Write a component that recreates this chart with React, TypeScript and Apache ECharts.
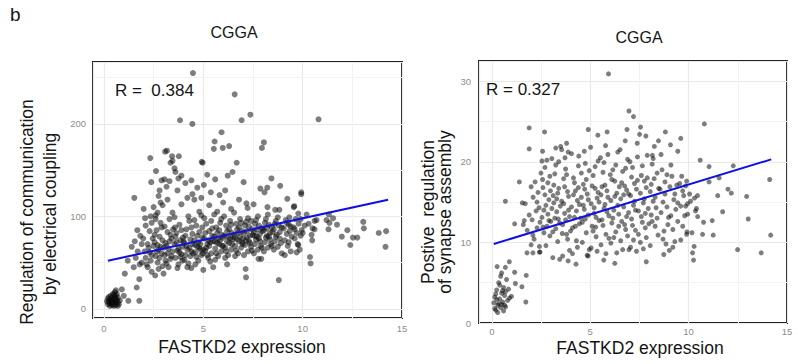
import React, { useEffect, useRef } from "react";
import * as echarts from "echarts";

// ---------- DATA ----------
const panelTitles = ["CGGA", "CGGA"];
const xAxisTitle = "FASTKD2 expression";
const leftYTitle = ["Regulation of communication", "by electrical coupling"];
const rightYTitle = ["Postive  regulation", "of synapse assembly"];
const leftR = "R =  0.384";
const rightR = "R = 0.327";

const leftXTicks = [0, 5, 10, 15];
const leftYTicks = [0, 100, 200];
const rightXTicks = [0, 5, 10, 15];
const rightYTicks = [0, 10, 20, 30];

const leftMinorX = [2.5, 7.5, 12.5];
const leftMinorY = [50, 150, 250];
const rightMinorX = [2.5, 7.5, 12.5];
const rightMinorY = [5, 15, 25];

// regression line end points
const leftFit = [[0.2, 52], [14.3, 118]];
const rightFit = [[0.1, 9.8], [14.2, 20.3]];

// left panel: FASTKD2 expression vs electrical coupling score
const leftPoints = [
  [0.2,5],[0.25,8],[0.3,10],[0.35,6],[0.4,12],[0.45,9],[0.5,7],[0.55,11],[0.6,14],[0.3,3],[0.4,4],[0.5,3],[0.6,6],[0.65,9],[0.7,12],[0.2,11],[0.35,14],[0.45,16],[0.55,18],[0.4,7],[0.5,10],[0.6,4],[0.7,7],[0.75,5],[0.25,13],[0.3,6],[0.15,8],[0.45,5],[0.55,13],[0.65,16],[0.8,9],[0.5,15],[0.35,10],[0.6,10],[0.7,3],
  [1.23,8.6],[1.78,8.6],[1.05,38],[1.78,32],[1.65,23],[0.9,21],[2.58,36],[1.4,67],[1.2,52],[0.6,20],[1.0,14],[1.5,45],[1.9,50],
  [1.53,120],[2.33,163],[3.83,204],[4.45,200],[4.48,255],[3.08,170],[3.17,171],[3.43,165],[3.77,165],[3.45,160],[3.35,158],[3.55,152],[3.6,148],[3.9,144],[3.75,141],[4.1,136],[4.4,139],[4.45,124],[2.62,149],[2.38,137],[2.8,128],[2.9,139],[3.15,132],[3.05,140],[3.3,138],[2.75,122],[2.85,115],[2.95,112],[4.92,159],[2.0,108],[2.07,98],[1.68,85],[1.83,79],[1.98,76],[2.35,100],[2.6,97],[4.2,120],[3.7,128],[4.7,131],[4.55,118],[2.5,110],[3.9,113],[4.8,105],[3.2,118],[2.7,104],
  [6.58,232],[7.37,210],[6.93,204],[5.92,191],[5.57,181],[5.53,173],[5.98,174],[6.3,176],[8.05,180],[7.95,174],[4.97,158],[6.68,158],[6.47,148],[6.23,144],[7.03,137],[8.43,141],[7.87,130],[8.22,131],[8.08,126],[8.87,133],[9.23,119],[9.58,111],[9.93,124],[6.1,128],[5.82,123],[5.38,126],[5.03,134],[7.17,114],[7.53,113],[7.23,109],[8.23,110],[8.62,107],[8.83,107],[9.33,99],[9.55,110],
  [5.2,145],[5.6,140],[4.9,120],[5.3,112],[6.0,115],[6.4,108],[6.8,118],[5.7,105],
  [7.13,43],[7.15,34],[8.8,31],[7.78,54],[7.92,54],[2.4,40],[3.0,38],[4.4,44],[5.0,42],[5.5,45],[6.2,48],
  [10.8,205],[9.93,126],[9.78,103],[11.32,102],[11.53,98],[13.05,94],[11.2,96],[11.35,93],[11.73,91],[14.2,84],[13.08,87],[13.83,82],[12.25,85],[11.97,78],[12.53,77],[12.75,77],[12.4,69],[14.17,67],[11.3,86],[10.37,56],[10.4,49],[10.45,80],[10.48,74],[9.78,69],[10.1,90],[10.3,92],[10.6,95],[10.7,96],[10.2,102],[9.9,97],[9.95,85],[10.0,82],[10.5,87],[10.6,86],
  [1.6,55],[1.7,62],[1.8,48],[1.9,70],[1.55,73],
  [2.05,62],[2.1,55],[2.2,70],[2.15,48],[2.3,84],[2.25,66],[2.4,58],[2.45,76],[2.1,90],[2.35,52],[2.2,45],[2.4,93],[2.5,68],[2.3,61],
  [2.55,72],[2.6,57],[2.65,85],[2.7,50],[2.75,64],[2.8,78],[2.85,93],[2.9,60],[2.95,46],[2.6,101],[2.7,69],[2.8,55],[2.9,88],[2.55,80],[2.75,43],[2.95,74],[2.65,62],[2.85,67],
  [3.05,58],[3.1,71],[3.15,49],[3.2,83],[3.25,65],[3.3,97],[3.35,54],[3.4,76],[3.45,62],[3.05,89],[3.15,68],[3.25,45],[3.35,80],[3.45,104],[3.1,52],[3.2,60],[3.3,73],[3.4,57],[3.48,86],[3.0,66],
  [3.55,70],[3.6,55],[3.65,82],[3.7,63],[3.75,48],[3.8,91],[3.85,74],[3.9,59],[3.95,67],[3.55,99],[3.6,78],[3.7,44],[3.8,61],[3.9,85],[3.95,52],[3.65,72],[3.75,65],[3.85,56],[3.58,88],[3.98,77],
  [4.05,71],[4.1,58],[4.15,86],[4.2,64],[4.25,49],[4.3,95],[4.35,75],[4.4,62],[4.45,81],[4.05,53],[4.15,68],[4.25,100],[4.35,57],[4.45,70],[4.1,79],[4.2,45],[4.3,66],[4.4,88],[4.48,60],[4.0,73],
  [4.55,74],[4.6,61],[4.65,90],[4.7,67],[4.75,52],[4.8,83],[4.85,70],[4.9,58],[4.95,77],[4.55,96],[4.65,56],[4.75,72],[4.85,64],[4.95,88],[4.6,48],[4.7,79],[4.8,66],[4.9,101],[4.58,69],[4.98,60],
  [5.05,76],[5.1,63],[5.15,92],[5.2,70],[5.25,55],[5.3,84],[5.35,72],[5.4,60],[5.45,79],[5.05,98],[5.15,66],[5.25,74],[5.35,51],[5.45,87],[5.1,82],[5.2,58],[5.3,68],[5.4,95],[5.48,73],[5.0,64],
  [5.55,78],[5.6,65],[5.65,88],[5.7,71],[5.75,57],[5.8,85],[5.85,74],[5.9,62],[5.95,80],[5.55,102],[5.65,60],[5.75,76],[5.85,93],[5.95,68],[5.6,53],[5.7,82],[5.8,70],[5.9,97],[5.58,73],[5.98,77],
  [6.05,79],[6.1,66],[6.15,90],[6.2,73],[6.25,58],[6.3,86],[6.35,76],[6.4,64],[6.45,82],[6.05,100],[6.15,62],[6.25,78],[6.35,95],[6.45,70],[6.1,55],[6.2,84],[6.3,71],[6.4,91],[6.48,75],[6.0,68],
  [6.55,80],[6.6,68],[6.65,92],[6.7,75],[6.75,60],[6.8,88],[6.85,78],[6.9,66],[6.95,84],[6.55,104],[6.65,63],[6.75,82],[6.85,97],[6.95,72],[6.6,57],[6.7,86],[6.8,73],[6.9,93],[6.58,77],[6.98,70],
  [7.05,82],[7.1,69],[7.15,94],[7.2,77],[7.25,62],[7.3,89],[7.35,79],[7.4,67],[7.45,86],[7.05,58],[7.15,74],[7.25,98],[7.35,71],[7.45,63],[7.1,90],[7.2,84],[7.3,73],[7.4,95],[7.48,80],[7.0,76],
  [7.55,83],[7.6,70],[7.65,96],[7.7,78],[7.75,64],[7.8,90],[7.85,81],[7.9,68],[7.95,87],[7.55,60],[7.65,75],[7.75,100],[7.85,73],[7.95,66],[7.6,92],[7.7,86],[7.8,76],[7.58,79],[7.98,84],
  [8.05,85],[8.1,72],[8.15,97],[8.2,79],[8.25,66],[8.3,91],[8.35,82],[8.4,70],[8.45,88],[8.05,62],[8.15,77],[8.25,102],[8.35,75],[8.45,68],[8.1,93],[8.2,87],[8.3,78],[8.48,83],
  [8.55,86],[8.6,73],[8.65,95],[8.7,80],[8.75,67],[8.8,90],[8.85,83],[8.9,71],[8.95,60],[8.55,64],[8.65,78],[8.75,99],[8.85,76],[8.95,88],[8.6,92],
  [9.05,87],[9.1,74],[9.15,96],[9.2,81],[9.25,68],[9.3,91],[9.35,84],[9.4,62],[9.45,78],[9.1,58],[9.2,93],[9.3,72],[9.4,89],
  [9.55,88],[9.6,76],[9.65,97],[9.7,82],[9.75,70],[9.8,92],[9.85,64],[9.9,79],[9.6,86],[9.7,61]
];

// right panel: FASTKD2 expression vs synapse assembly score
const rightPoints = [
  [0.1,2.5],[0.15,3.2],[0.2,1.6],[0.25,4.1],[0.3,2.2],[0.35,5.0],[0.4,3.0],[0.45,1.9],[0.5,3.7],[0.55,2.6],[0.6,4.4],[0.65,3.4],[0.7,2.0],[0.75,5.4],[0.2,3.6],[0.3,1.3],[0.4,4.7],[0.5,2.3],[0.6,1.5],[0.7,3.9],[0.8,2.8],[0.25,2.9],[0.45,5.8],[0.55,4.0],[0.35,2.4],[0.65,2.2],[0.15,1.8],[0.85,4.2],[0.9,3.1],[0.5,6.2],
  [0.27,7.0],[0.69,6.9],[0.89,7.6],[1.16,6.3],[1.53,4.5],[1.75,5.9],[1.73,2.6],[1.0,3.3],[1.2,4.9],
  [1.9,24.2],[2.68,23.7],[1.9,21.6],[2.58,21.3],[3.25,21.7],[3.5,21.9],[3.8,22.3],[3.88,21.2],[1.4,17.5],[0.69,15.1],[1.16,12.3],[2.09,10.9],[1.79,8.7],[2.09,8.7],[2.42,8.8],[2.42,9.5],
  [5.93,30.9],[6.97,26.3],[7.2,25.6],[6.87,24.0],[7.56,24.3],[8.82,23.7],[9.6,22.9],[4.9,24.0],[5.86,23.7],[5.39,23.3],[7.51,23.4],[7.83,23.2],[7.39,22.3],[8.47,22.6],[9.08,22.1],[9.45,21.3],[8.26,21.9],[8.16,20.8],
  [5.69,7.8],[6.25,7.4],[7.85,7.6],[6.97,9.1],[8.74,8.5],[9.02,9.0],[4.89,8.3],
  [10.8,24.7],[10.59,20.2],[11.04,19.4],[12.27,19.5],[11.55,18.0],[11.04,17.5],[14.12,17.8],[12.0,16.6],[12.17,16.1],[11.48,15.8],[12.95,15.7],[11.73,13.8],[13.03,12.9],[10.46,13.2],[10.76,12.5],[11.2,12.7],[9.92,11.3],[10.17,11.2],[10.71,11.0],[11.25,10.9],[14.17,10.9],[12.49,9.1],[13.69,8.7],[10.28,9.5],[10.2,8.7],[10.25,7.8],
  [9.9,17.6],[10.05,16.0],[10.3,15.5],[10.45,15.8],[10.1,15.1],[10.4,14.2],[10.35,13.9],[9.85,14.5],[9.95,13.5],
  [1.6,12.2],[1.7,14.8],[1.8,11.5],[1.9,13.4],[2.0,16.9],[2.05,12.8],[2.1,15.6],[2.15,10.4],[2.2,17.5],[2.25,13.9],[2.3,11.8],[2.35,16.2],[2.4,14.3],[2.45,12.5],[2.5,18.6],[1.55,14.9],[1.65,12.7],[2.0,9.7],[2.3,15.0],[2.45,8.8],
  [2.55,13.1],[2.6,16.8],[2.65,11.2],[2.7,19.3],[2.75,14.6],[2.8,12.0],[2.85,17.4],[2.9,15.3],[2.95,10.8],[2.55,20.1],[2.65,14.0],[2.75,9.6],[2.85,13.5],[2.95,18.2],[2.6,11.9],[2.7,15.9],[2.8,20.2],[2.9,12.7],[2.98,16.4],[2.58,17.8],
  [3.05,14.2],[3.1,11.3],[3.15,17.1],[3.2,13.0],[3.25,19.6],[3.3,15.4],[3.35,10.1],[3.4,16.7],[3.45,12.4],[3.05,20.4],[3.1,8.1],[3.15,14.9],[3.2,18.5],[3.25,11.7],[3.3,13.8],[3.35,16.1],[3.4,20.0],[3.45,7.9],[3.48,14.5],[3.0,12.6],[3.12,15.8],[3.38,12.9],
  [3.55,15.1],[3.6,12.2],[3.65,17.9],[3.7,13.6],[3.75,19.1],[3.8,11.0],[3.85,16.3],[3.9,14.0],[3.95,9.0],[3.55,21.5],[3.6,8.3],[3.65,14.8],[3.7,16.9],[3.75,12.8],[3.8,18.4],[3.85,10.4],[3.9,15.7],[3.95,13.2],[3.58,11.1],[3.72,20.5],[3.88,7.7],
  [4.05,14.4],[4.1,11.8],[4.15,18.0],[4.2,13.1],[4.25,16.4],[4.3,10.2],[4.35,15.2],[4.4,19.5],[4.45,12.3],[4.05,21.0],[4.1,8.6],[4.15,15.9],[4.2,17.4],[4.25,12.0],[4.3,13.9],[4.35,9.4],[4.4,16.8],[4.45,14.7],[4.0,11.4],[4.28,7.3],[4.42,20.7],
  [4.55,15.6],[4.6,12.5],[4.65,17.2],[4.7,14.1],[4.75,19.8],[4.8,11.2],[4.85,16.0],[4.9,13.4],[4.95,9.1],[4.55,18.6],[4.6,10.0],[4.65,14.6],[4.7,21.3],[4.75,12.9],[4.8,17.8],[4.85,8.4],[4.9,15.3],[4.95,18.9],[4.52,13.0],[4.72,16.6],
  [5.05,14.8],[5.1,12.0],[5.15,18.3],[5.2,13.6],[5.25,16.7],[5.3,10.7],[5.35,15.5],[5.4,20.1],[5.45,12.7],[5.05,9.3],[5.1,17.0],[5.15,11.4],[5.2,14.3],[5.25,19.4],[5.3,13.1],[5.35,8.9],[5.4,16.2],[5.45,15.0],[5.02,21.8],[5.28,11.9],
  [5.55,15.9],[5.6,12.8],[5.65,18.7],[5.7,14.2],[5.75,17.1],[5.8,11.0],[5.85,16.4],[5.9,20.9],[5.95,13.3],[5.55,9.7],[5.6,16.9],[5.65,12.1],[5.7,19.9],[5.75,14.7],[5.8,8.6],[5.85,13.8],[5.9,15.6],[5.95,10.5],[5.52,20.5],[5.78,22.0],
  [6.05,15.2],[6.1,12.4],[6.15,19.0],[6.2,14.0],[6.25,17.6],[6.3,11.3],[6.35,16.1],[6.4,21.2],[6.45,13.5],[6.05,9.9],[6.1,17.8],[6.15,13.0],[6.2,10.6],[6.25,15.7],[6.3,19.6],[6.35,8.7],[6.4,14.6],[6.45,12.0],[6.02,18.4],[6.48,16.9],
  [6.55,15.4],[6.6,12.6],[6.65,18.8],[6.7,14.4],[6.75,17.0],[6.8,11.6],[6.85,16.5],[6.9,20.3],[6.95,13.7],[6.55,10.2],[6.6,17.4],[6.65,9.1],[6.7,15.9],[6.75,12.2],[6.8,19.2],[6.85,13.2],[6.9,10.8],[6.95,16.0],[6.52,21.5],[6.78,22.6],
  [7.05,15.8],[7.1,12.9],[7.15,19.3],[7.2,14.6],[7.25,17.3],[7.3,11.5],[7.35,16.6],[7.4,20.6],[7.45,13.9],[7.05,9.4],[7.1,18.1],[7.15,12.1],[7.2,10.3],[7.25,15.1],[7.3,14.0],[7.35,8.9],[7.4,17.7],[7.45,11.0],[7.02,20.0],
  [7.55,16.1],[7.6,13.2],[7.65,19.5],[7.7,14.9],[7.75,17.6],[7.8,11.8],[7.85,16.8],[7.9,20.8],[7.95,14.2],[7.55,10.0],[7.6,18.3],[7.65,12.5],[7.7,9.2],[7.75,15.4],[7.8,13.6],[7.85,10.6],[7.9,18.0],[7.98,12.3],
  [8.05,16.3],[8.1,13.4],[8.15,19.7],[8.2,15.1],[8.25,17.9],[8.3,12.0],[8.35,14.3],[8.4,18.6],[8.45,10.9],[8.05,9.6],[8.1,17.2],[8.15,12.6],[8.2,20.4],[8.3,15.6],[8.4,13.0],[8.48,16.7],
  [8.55,16.6],[8.6,13.7],[8.65,19.0],[8.7,15.0],[8.75,11.4],[8.8,17.5],[8.85,9.8],[8.9,14.4],[8.95,12.2],[8.6,20.9],[8.7,10.4],[8.8,16.0],[8.9,18.4],[8.98,13.1],
  [9.05,16.9],[9.1,13.3],[9.15,18.2],[9.2,11.6],[9.25,15.3],[9.3,10.1],[9.35,14.1],[9.4,17.1],[9.45,12.6],[9.1,19.6],[9.2,9.4],[9.3,16.0],[9.45,14.9],
  [9.55,17.3],[9.6,14.5],[9.65,18.2],[9.7,12.0],[9.75,15.8],[9.8,13.3],[9.85,17.0],[9.9,11.0],[9.6,10.3],[9.7,16.4],[9.95,14.8]
];

// ---------- STYLE ----------
const FONT = "'Liberation Sans', Arial, sans-serif";
const TICK_FONT = "'Liberation Sans Narrow', 'Liberation Sans', Arial, sans-serif";
const TEXT_COLOR = "#151515";
const GRID_COLOR = "#e9e9e9";
const MINOR_GRID_COLOR = "#f2f2f2";
const POINT_COLOR = "rgba(10,10,10,0.66)";
const FIT_COLOR = "#1010e0";

function tickFormatter(ticks: number[]) {
  return (v: number) => (ticks.some((t) => Math.abs(t - v) < 1e-6) ? String(v) : "");
}

function valueAxis(gridIndex: number, min: number, max: number, splitNumber: number, ticks: number[], margin: number) {
  return {
    type: "value",
    gridIndex,
    min,
    max,
    splitNumber,
    axisLine: { show: false },
    axisTick: { show: false },
    axisLabel: {
      show: true,
      showMinLabel: true,
      showMaxLabel: true,
      margin,
      fontFamily: TICK_FONT,
      fontSize: 9.5,
      color: "#8c8c8c",
      formatter: tickFormatter(ticks),
    },
    splitLine: { show: true, lineStyle: { color: GRID_COLOR, width: 1.2 } },
  };
}

function minorLines(xs: number[], ys: number[]) {
  return {
    silent: true,
    symbol: ["none", "none"],
    z: 1,
    label: { show: false },
    lineStyle: { color: MINOR_GRID_COLOR, width: 1, type: "solid" },
    emphasis: { disabled: true },
    data: [...xs.map((v) => ({ xAxis: v })), ...ys.map((v) => ({ yAxis: v }))],
  };
}

export default function App() {
  const ref = useRef<HTMLDivElement>(null);

  useEffect(() => {
    if (!ref.current) return;
    const chart = echarts.init(ref.current, undefined, { renderer: "svg" });
    const option: any = {
      animation: false,
      backgroundColor: "#ffffff",
      grid: [
        { left: 93, top: 62, width: 309, height: 256, show: true, borderColor: "#222", borderWidth: 2, backgroundColor: "transparent", containLabel: false, outerBoundsMode: "none" },
        { left: 479, top: 61, width: 308, height: 262, show: true, borderColor: "#222", borderWidth: 2, backgroundColor: "transparent", containLabel: false, outerBoundsMode: "none" },
      ],
      xAxis: [
        valueAxis(0, -0.55, 15, 3, leftXTicks, 5),
        valueAxis(1, -0.65, 15, 3, rightXTicks, 3),
      ],
      yAxis: [
        valueAxis(0, -10, 267, 3, leftYTicks, 7),
        valueAxis(1, 0, 32.5, 3, rightYTicks, 8),
      ],
      series: [
        {
          type: "scatter",
          xAxisIndex: 0,
          yAxisIndex: 0,
          data: leftPoints,
          symbolSize: 6,
          itemStyle: { color: POINT_COLOR },
          markLine: minorLines(leftMinorX, leftMinorY),
          z: 3,
        },
        {
          type: "line",
          xAxisIndex: 0,
          yAxisIndex: 0,
          data: leftFit,
          showSymbol: false,
          symbol: "none",
          lineStyle: { color: FIT_COLOR, width: 2 },
          z: 4,
        },
        {
          type: "scatter",
          xAxisIndex: 1,
          yAxisIndex: 1,
          data: rightPoints,
          symbolSize: 5,
          itemStyle: { color: POINT_COLOR },
          markLine: minorLines(rightMinorX, rightMinorY),
          z: 3,
        },
        {
          type: "line",
          xAxisIndex: 1,
          yAxisIndex: 1,
          data: rightFit,
          showSymbol: false,
          symbol: "none",
          lineStyle: { color: FIT_COLOR, width: 2 },
          z: 4,
        },
      ],
      graphic: [
        { type: "text", x: 10, y: 5, style: { text: "b", font: `19px ${FONT}`, fill: TEXT_COLOR } },
        { type: "text", x: 234, y: 32, style: { text: panelTitles[0], font: `16px ${FONT}`, fill: TEXT_COLOR, textAlign: "center", textVerticalAlign: "middle" } },
        { type: "text", x: 639, y: 37, style: { text: panelTitles[1], font: `16px ${FONT}`, fill: TEXT_COLOR, textAlign: "center", textVerticalAlign: "middle" } },
        { type: "text", x: 115, y: 90, style: { text: leftR, font: `17px ${FONT}`, fill: TEXT_COLOR, textAlign: "left", textVerticalAlign: "middle" }, z: 10 },
        { type: "text", x: 486, y: 89, style: { text: rightR, font: `17px ${FONT}`, fill: TEXT_COLOR, textAlign: "left", textVerticalAlign: "middle" }, z: 10 },
        { type: "text", x: 242, y: 347, style: { text: xAxisTitle, font: `17.5px ${FONT}`, fill: TEXT_COLOR, textAlign: "center", textVerticalAlign: "middle" } },
        { type: "text", x: 640, y: 348, style: { text: xAxisTitle, font: `17.5px ${FONT}`, fill: TEXT_COLOR, textAlign: "center", textVerticalAlign: "middle" } },
        { type: "text", x: 27, y: 212, rotation: Math.PI / 2, style: { text: leftYTitle[0], font: `17.5px ${FONT}`, fill: TEXT_COLOR, textAlign: "center", textVerticalAlign: "middle" } },
        { type: "text", x: 50, y: 214, rotation: Math.PI / 2, style: { text: leftYTitle[1], font: `17.5px ${FONT}`, fill: TEXT_COLOR, textAlign: "center", textVerticalAlign: "middle" } },
        { type: "text", x: 428, y: 212, rotation: Math.PI / 2, style: { text: rightYTitle[0], font: `17.5px ${FONT}`, fill: TEXT_COLOR, textAlign: "center", textVerticalAlign: "middle" } },
        { type: "text", x: 445, y: 212, rotation: Math.PI / 2, style: { text: rightYTitle[1], font: `17.5px ${FONT}`, fill: TEXT_COLOR, textAlign: "center", textVerticalAlign: "middle" } },
      ],
    };
    chart.setOption(option);
    return () => chart.dispose();
  }, []);

  return (
    <div
      ref={ref}
      style={{ position: "fixed", left: 0, top: 0, width: 798, height: 364, background: "#fff" }}
    />
  );
}
